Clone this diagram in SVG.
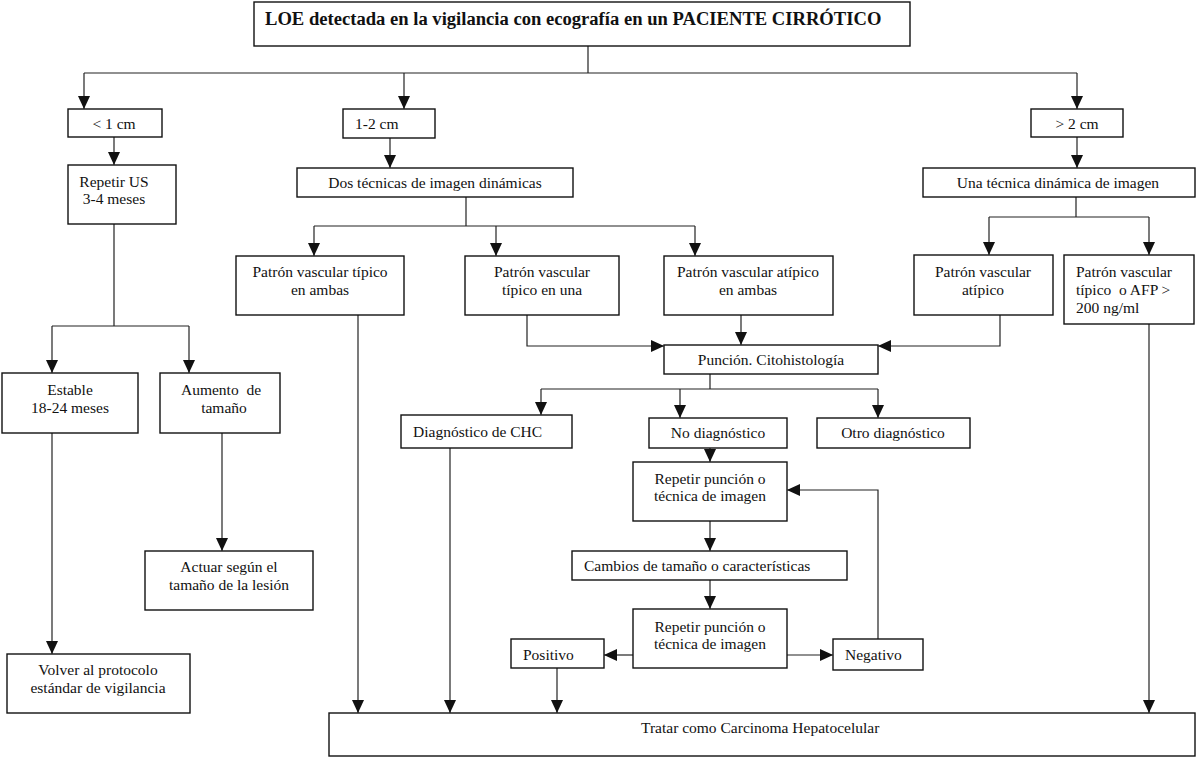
<svg xmlns="http://www.w3.org/2000/svg" width="1200" height="759" viewBox="0 0 1200 759">
<style>
.box{fill:#fff;stroke:#111;stroke-width:1.4}
.t{font-family:"Liberation Serif","Times New Roman",serif;font-size:15.5px;fill:#111}
.c{text-anchor:middle}
.title{font-family:"Liberation Serif","Times New Roman",serif;font-size:18.6px;font-weight:bold;fill:#111}
.ln{fill:none;stroke:#222;stroke-width:1.2}
</style>
<defs>
<marker id="ah" markerUnits="userSpaceOnUse" markerWidth="12" markerHeight="12" refX="13" refY="6" orient="auto">
<path d="M0,0 L13,6 L0,12 z" fill="#111"/>
</marker>
</defs>
<rect width="1200" height="759" fill="#fff"/>
<g id="connectors">
<path class="ln" d="M588,46 V73 M84,73 H1077"/>
<path class="ln" marker-end="url(#ah)" d="M84,73 V109"/>
<path class="ln" marker-end="url(#ah)" d="M404,73 V109"/>
<path class="ln" marker-end="url(#ah)" d="M1077,73 V109"/>
<path class="ln" marker-end="url(#ah)" d="M114,137 V165"/>
<path class="ln" d="M114,224 V326 M52,326 H189"/>
<path class="ln" marker-end="url(#ah)" d="M52,326 V373"/>
<path class="ln" marker-end="url(#ah)" d="M189,326 V373"/>
<path class="ln" marker-end="url(#ah)" d="M52,433 V654"/>
<path class="ln" marker-end="url(#ah)" d="M222,433 V551"/>
<path class="ln" marker-end="url(#ah)" d="M390,138 V168"/>
<path class="ln" d="M466,197 V226 M314,226 H695"/>
<path class="ln" marker-end="url(#ah)" d="M314,226 V256"/>
<path class="ln" marker-end="url(#ah)" d="M496,226 V256"/>
<path class="ln" marker-end="url(#ah)" d="M695,226 V256"/>
<path class="ln" marker-end="url(#ah)" d="M1077,137 V168"/>
<path class="ln" d="M1076,197 V217 M989,217 H1149"/>
<path class="ln" marker-end="url(#ah)" d="M989,217 V255"/>
<path class="ln" marker-end="url(#ah)" d="M1149,217 V255"/>
<path class="ln" marker-end="url(#ah)" d="M527,315 V346 H664"/>
<path class="ln" marker-end="url(#ah)" d="M741,315 V345"/>
<path class="ln" marker-end="url(#ah)" d="M1000,315 V346 H878"/>
<path class="ln" d="M710,374 V389 M541,389 H878"/>
<path class="ln" marker-end="url(#ah)" d="M541,389 V415"/>
<path class="ln" marker-end="url(#ah)" d="M680,389 V418"/>
<path class="ln" marker-end="url(#ah)" d="M878,389 V418"/>
<path class="ln" marker-end="url(#ah)" d="M710,448 V462"/>
<path class="ln" marker-end="url(#ah)" d="M710,521 V551"/>
<path class="ln" marker-end="url(#ah)" d="M710,580 V609"/>
<path class="ln" marker-end="url(#ah)" d="M633,655 H604"/>
<path class="ln" marker-end="url(#ah)" d="M787,655 H833"/>
<path class="ln" marker-end="url(#ah)" d="M878,639 V490 H787"/>
<path class="ln" marker-end="url(#ah)" d="M557,668 V713"/>
<path class="ln" marker-end="url(#ah)" d="M358,315 V713"/>
<path class="ln" marker-end="url(#ah)" d="M450,448 V713"/>
<path class="ln" marker-end="url(#ah)" d="M1149,324 V713"/>
</g>
<g id="n-title"><rect class="box" x="254" y="2" width="656" height="44"/><text class="title" x="265" y="25">LOE detectada en la vigilancia con ecografía en un PACIENTE CIRRÓTICO</text></g>
<g id="n-lt1"><rect class="box" x="68" y="109" width="94" height="28"/><text class="t c" x="114" y="129">&lt; 1 cm</text></g>
<g id="n-12"><rect class="box" x="343" y="109" width="92" height="29"/><text class="t" x="355" y="129">1-2 cm</text></g>
<g id="n-gt2"><rect class="box" x="1031" y="109" width="92" height="28"/><text class="t c" x="1077" y="129">&gt; 2 cm</text></g>
<g id="n-repus"><rect class="box" x="68" y="165" width="108" height="59"/><text class="t c" x="114" y="187">Repetir US</text><text class="t c" x="114" y="204">3-4 meses</text></g>
<g id="n-dos"><rect class="box" x="297" y="168" width="276" height="29"/><text class="t c" x="435" y="188">Dos técnicas de imagen dinámicas</text></g>
<g id="n-una"><rect class="box" x="923" y="168" width="272" height="29"/><text class="t c" x="1058" y="188">Una técnica dinámica de imagen</text></g>
<g id="n-pta"><rect class="box" x="236" y="256" width="168" height="59"/><text class="t c" x="320" y="277">Patrón vascular típico</text><text class="t c" x="320" y="295">en ambas</text></g>
<g id="n-ptu"><rect class="box" x="465" y="256" width="154" height="59"/><text class="t c" x="542" y="277">Patrón vascular</text><text class="t c" x="542" y="295">típico en una</text></g>
<g id="n-paa"><rect class="box" x="664" y="256" width="169" height="59"/><text class="t c" x="748" y="277">Patrón vascular atípico</text><text class="t c" x="748" y="295">en ambas</text></g>
<g id="n-pa"><rect class="box" x="914" y="255" width="139" height="60"/><text class="t c" x="983" y="277">Patrón vascular</text><text class="t c" x="983" y="295">atípico</text></g>
<g id="n-pafp"><rect class="box" x="1064" y="255" width="130" height="69"/><text class="t" x="1076" y="277">Patrón vascular</text><text class="t" x="1076" y="295" xml:space="preserve">típico  o AFP &gt;</text><text class="t" x="1076" y="313">200 ng/ml</text></g>
<g id="n-est"><rect class="box" x="2" y="373" width="136" height="60"/><text class="t c" x="70" y="395">Estable</text><text class="t c" x="70" y="413">18-24 meses</text></g>
<g id="n-aum"><rect class="box" x="160" y="373" width="120" height="60"/><text class="t c" x="221" y="395" xml:space="preserve">Aumento  de</text><text class="t c" x="224" y="413">tamaño</text></g>
<g id="n-pun"><rect class="box" x="664" y="345" width="214" height="29"/><text class="t c" x="771" y="365">Punción. Citohistología</text></g>
<g id="n-chc"><rect class="box" x="401" y="415" width="171" height="33"/><text class="t" x="413" y="437">Diagnóstico de CHC</text></g>
<g id="n-nod"><rect class="box" x="649" y="418" width="138" height="30"/><text class="t c" x="718" y="438">No diagnóstico</text></g>
<g id="n-otro"><rect class="box" x="817" y="418" width="153" height="30"/><text class="t c" x="893" y="438">Otro diagnóstico</text></g>
<g id="n-rep1"><rect class="box" x="633" y="462" width="154" height="59"/><text class="t c" x="710" y="484">Repetir punción o</text><text class="t c" x="710" y="501">técnica de imagen</text></g>
<g id="n-act"><rect class="box" x="145" y="551" width="168" height="59"/><text class="t c" x="229" y="572">Actuar según el</text><text class="t c" x="229" y="590">tamaño de la lesión</text></g>
<g id="n-cam"><rect class="box" x="572" y="551" width="275" height="29"/><text class="t" x="584" y="571">Cambios de tamaño o características</text></g>
<g id="n-rep2"><rect class="box" x="633" y="609" width="154" height="59"/><text class="t c" x="710" y="632">Repetir punción o</text><text class="t c" x="710" y="649">técnica de imagen</text></g>
<g id="n-pos"><rect class="box" x="511" y="639" width="93" height="29"/><text class="t" x="523" y="660">Positivo</text></g>
<g id="n-neg"><rect class="box" x="833" y="639" width="90" height="31"/><text class="t" x="845" y="660">Negativo</text></g>
<g id="n-vol"><rect class="box" x="7" y="654" width="183" height="59"/><text class="t c" x="98" y="675">Volver al protocolo</text><text class="t c" x="98" y="693">estándar de vigilancia</text></g>
<g id="n-trat"><rect class="box" x="329" y="713" width="866" height="43"/><text class="t" x="641" y="733">Tratar como Carcinoma Hepatocelular</text></g>
</svg>
